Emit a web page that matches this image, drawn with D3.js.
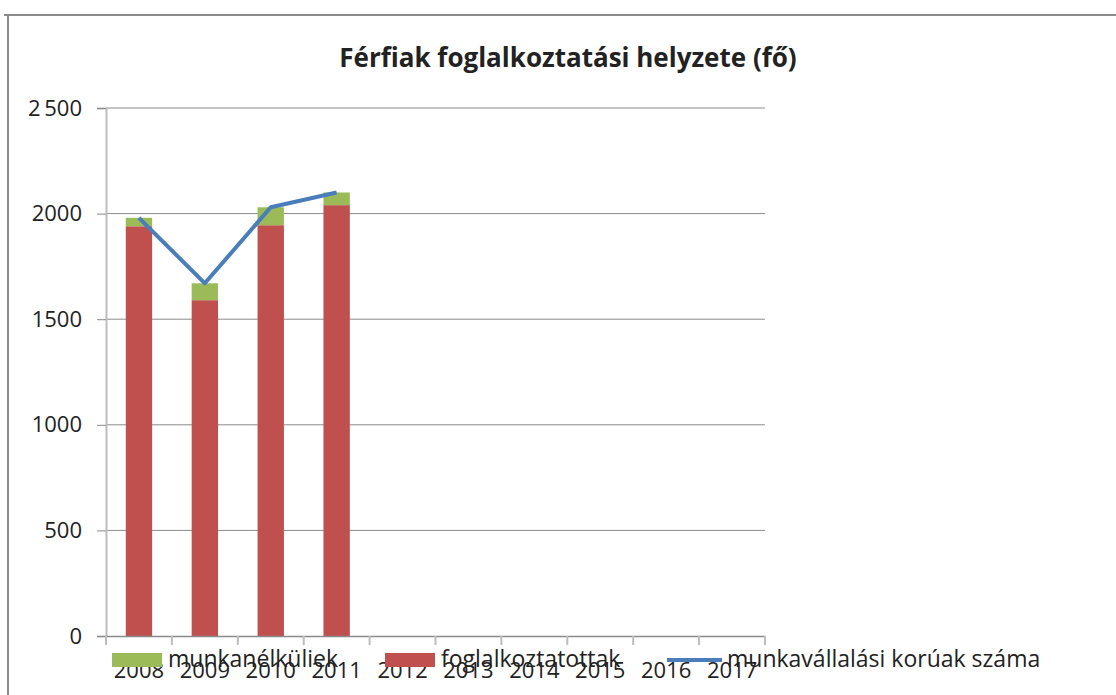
<!DOCTYPE html>
<html>
<head>
<meta charset="utf-8">
<script src="https://cdn.jsdelivr.net/npm/d3@7"></script>
<style>
  body { margin: 0; background: #fff; }
  svg text { font-family: "Open Sans", "DejaVu Sans", sans-serif; fill: #222; }
</style>
</head>
<body>
<div id="chart"></div>
<script>
// Data
const years = ["2008", "2009", "2010", "2011", "2012", "2013", "2014", "2015", "2016", "2017"];
const employed = [1940, 1590, 1945, 2040, null, null, null, null, null, null];   // foglalkoztatottak
const unemployed = [40, 80, 85, 60, null, null, null, null, null, null];         // munkanélküliek
const workingAge = [1980, 1670, 2030, 2100, null, null, null, null, null, null]; // munkavállalási korúak száma
const yTicks = [0, 500, 1000, 1500, 2000, 2500];

const width = 1116, height = 695;
const plot = { left: 106, right: 765, top: 108, bottom: 636 };

const svg = d3.select("#chart").append("svg")
    .attr("width", width)
    .attr("height", height);

// chart frame
svg.append("path")
    .attr("d", `M4,15 H${width} M8,15 V${height}`)
    .style("fill", "none")
    .style("stroke", "#8c8c8c")
    .style("stroke-width", "2px");

// title
svg.append("text")
    .attr("x", 568)
    .attr("y", 67)
    .attr("text-anchor", "middle")
    .style("font-size", "26px")
    .style("font-weight", "bold")
    .text("Férfiak foglalkoztatási helyzete (fő)");

const x = d3.scaleBand()
    .domain(years)
    .range([plot.left, plot.right])
    .paddingInner(0.6)
    .paddingOuter(0.3);

const xTick = d3.scaleBand().domain(years).range([plot.left, plot.right]);

const y = d3.scaleLinear()
    .domain([0, 2500])
    .range([plot.bottom, plot.top]);

// gridlines
svg.append("g")
    .selectAll("line")
    .data(yTicks.filter(d => d > 0))
    .enter().append("line")
    .attr("x1", plot.left)
    .attr("x2", plot.right)
    .attr("y1", d => y(d))
    .attr("y2", d => y(d))
    .style("stroke", "#8a8a8a")
    .style("stroke-width", "1px");

// y axis
const yAxis = svg.append("g")
    .attr("transform", `translate(${plot.left},0)`)
    .call(d3.axisLeft(y).tickValues(yTicks).tickSize(9).tickPadding(15)
        .tickFormat(d => d === 2500 ? "2\u2009500" : d));
yAxis.select(".domain").style("stroke", "#bdbdbd").style("stroke-width", "2px");
yAxis.selectAll(".tick line").style("stroke", "#8a8a8a");
yAxis.selectAll("text").style("font-size", "22px").style("fill", "#222");

// bars
const stackData = years.map((yr, i) => ({ year: yr, employed: employed[i], unemployed: unemployed[i] }))
    .filter(d => d.employed != null);

svg.append("g")
    .selectAll("rect")
    .data(stackData)
    .enter().append("rect")
    .attr("x", d => x(d.year))
    .attr("width", x.bandwidth())
    .attr("y", d => y(d.employed))
    .attr("height", d => y(0) - y(d.employed))
    .style("fill", "#c0504d");

svg.append("g")
    .selectAll("rect")
    .data(stackData)
    .enter().append("rect")
    .attr("x", d => x(d.year))
    .attr("width", x.bandwidth())
    .attr("y", d => y(d.employed + d.unemployed))
    .attr("height", d => y(d.employed) - y(d.employed + d.unemployed))
    .style("fill", "#9bbb59");

// x axis
const xAxis = svg.append("g")
    .attr("transform", `translate(0,${plot.bottom})`)
    .call(d3.axisBottom(xTick).tickSize(0).tickPadding(26));
xAxis.select(".domain").style("stroke", "#8a8a8a").style("stroke-width", "1.5px");
xAxis.selectAll("text").style("font-size", "22px").style("fill", "#222");

svg.append("g")
    .selectAll("line")
    .data(d3.range(years.length + 1))
    .enter().append("line")
    .attr("x1", i => plot.left + i * xTick.step())
    .attr("x2", i => plot.left + i * xTick.step())
    .attr("y1", plot.bottom)
    .attr("y2", plot.bottom + 9)
    .style("stroke", "#bdbdbd")
    .style("stroke-width", "2px");

// line
const lineData = years.map((yr, i) => ({ year: yr, value: workingAge[i] })).filter(d => d.value != null);
svg.append("path")
    .datum(lineData)
    .attr("d", d3.line().x(d => x(d.year) + x.bandwidth() / 2).y(d => y(d.value)))
    .style("fill", "none")
    .style("stroke", "#4a7ebb")
    .style("stroke-width", "4px")
    .style("stroke-linejoin", "round");

// legend (overlaps the year labels, as in the original)
const legendItems = [
    { label: "munkanélküliek", color: "#9bbb59", type: "rect", x: 112 },
    { label: "foglalkoztatottak", color: "#c0504d", type: "rect", x: 385 },
    { label: "munkavállalási korúak száma", color: "#4a7ebb", type: "line", x: 667 }
];
const legend = svg.append("g").selectAll("g")
    .data(legendItems)
    .enter().append("g")
    .attr("transform", d => `translate(${d.x},653)`);

legend.filter(d => d.type === "rect").append("rect")
    .attr("width", 50)
    .attr("height", 14)
    .style("fill", d => d.color);
legend.filter(d => d.type === "line").append("line")
    .attr("x1", 0).attr("x2", 55)
    .attr("y1", 7).attr("y2", 7)
    .style("stroke", d => d.color)
    .style("stroke-width", "4px");
legend.append("text")
    .attr("x", d => d.type === "rect" ? 56 : 60)
    .attr("y", 14)
    .style("font-size", "23px")
    .text(d => d.label);
</script>
</body>
</html>
